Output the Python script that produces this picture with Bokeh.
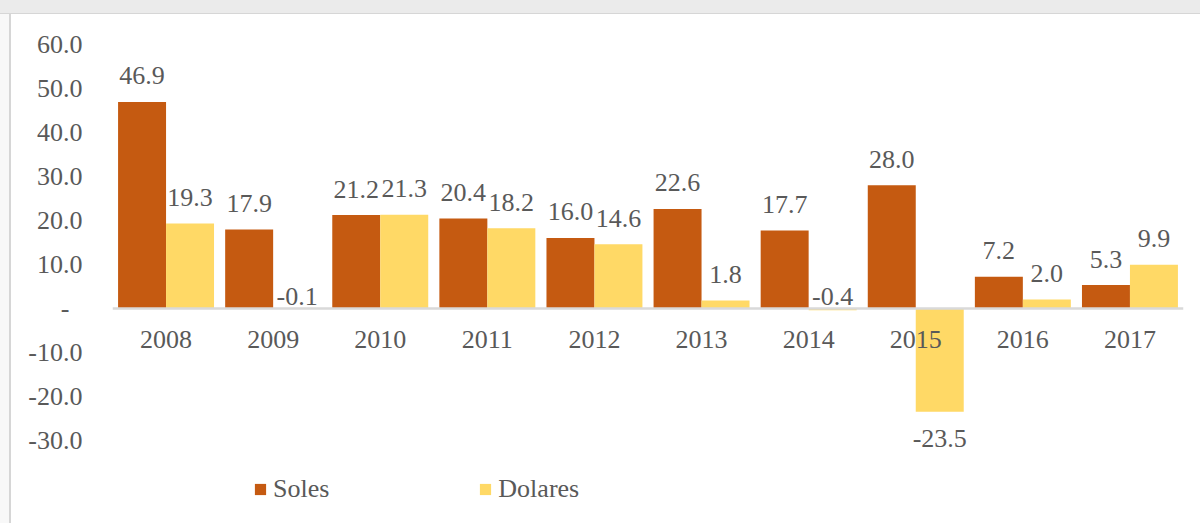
from bokeh.plotting import figure
from bokeh.models import (FactorRange, Range1d, FixedTicker, Legend,
                          LegendItem, ColumnDataSource, Div)
from bokeh.layouts import column, row
from bokeh.transform import dodge
from bokeh.core.properties import value
from bokeh.embed import file_html
from bokeh.resources import INLINE

years = ["2008", "2009", "2010", "2011", "2012", "2013", "2014", "2015", "2016", "2017"]
soles = [46.9, 17.9, 21.2, 20.4, 16.0, 22.6, 17.7, 28.0, 7.2, 5.3]
dolares = [19.3, -0.1, 21.3, 18.2, 14.6, 1.8, -0.4, -23.5, 2.0, 9.9]
y_ticks = [-30, -20, -10, 0, 10, 20, 30, 40, 50, 60]
y_tick_labels = ["-30.0", "-20.0", "-10.0", "-\u2007", "10.0", "20.0",
                 "30.0", "40.0", "50.0", "60.0"]

FONT = "Liberation Serif"
TXT = "#595959"
C_SOL = "#C55A11"
C_DOL = "#FFD966"

p = figure(x_range=FactorRange(*years, range_padding=0),
           y_range=Range1d(-47.5, 62),
           width=1189, height=509, output_backend="svg", toolbar_location=None,
           x_axis_location=None,
           min_border_left=101, min_border_right=17, min_border_top=21,
           min_border_bottom=6)
p.outline_line_color = None
p.xgrid.visible = False
p.ygrid.visible = False
p.background_fill_color = "white"
p.border_fill_color = "white"

yax = p.yaxis[0]
yax.ticker = FixedTicker(ticks=y_ticks)
yax.major_label_overrides = {t: l for t, l in zip(y_ticks, y_tick_labels)}
yax.axis_line_color = None
yax.major_tick_line_color = None
yax.minor_tick_line_color = None
yax.major_label_standoff = 24
yax.major_label_text_font = FONT
yax.major_label_text_font_size = "26px"
yax.major_label_text_color = TXT


def label_pos(vals):
    ys, offs = [], []
    for v in vals:
        if v >= 0:
            ys.append(v); offs.append(-26)
        elif v > -1:
            ys.append(0); offs.append(-12)
        else:
            ys.append(v); offs.append(27)
    return ys, offs


sy, so = label_pos(soles)
dy, do = label_pos(dolares)
src = ColumnDataSource(dict(
    year=years, soles=soles, dolares=dolares,
    sl=[f"{v:.1f}" for v in soles], dl=[f"{v:.1f}" for v in dolares],
    sy=sy, so=so, dy=dy, do=do,
))

bw = 0.448
r1 = p.vbar(x=dodge("year", -bw / 2, range=p.x_range), top="soles", bottom=0,
            width=bw, source=src, fill_color=C_SOL, line_color=None)
r2 = p.vbar(x=dodge("year", bw / 2, range=p.x_range), top="dolares", bottom=0,
            width=bw, source=src, fill_color=C_DOL, line_color=None)

# zero axis line, drawn over bars but under labels
p.hspan(y=[0], line_color="#d9d9d9", line_width=2.5)

p.text(x=dodge("year", -bw / 2, range=p.x_range), y="sy", text="sl",
       y_offset="so", source=src, text_align="center",
       text_baseline="alphabetic", text_font=value(FONT),
       text_font_size="26px", text_color=TXT)
p.text(x=dodge("year", bw / 2, range=p.x_range), y="dy", text="dl",
       y_offset="do", source=src, text_align="center",
       text_baseline="alphabetic", text_font=value(FONT),
       text_font_size="26px", text_color=TXT)

# category labels (drawn over the bars, as in the reference)
p.text(x="year", y=0, text="year", y_offset=31, source=src,
       text_align="center", text_baseline="alphabetic",
       text_font=value(FONT), text_font_size="26px", text_color=TXT)

legend = Legend(items=[LegendItem(label="Soles", renderers=[r1]),
                       LegendItem(label="Dolares", renderers=[r2])],
                orientation="horizontal", location=(141, 13),
                spacing=149, padding=0, margin=0, label_standoff=6,
                glyph_width=14, glyph_height=14,
                border_line_color=None, background_fill_alpha=0,
                label_text_font="'Liberation Serif', serif",
                label_text_font_size="26px",
                label_text_color=TXT)
p.add_layout(legend)

top_strip = Div(text="", width=1200, height=14, margin=0,
                styles={"background": "linear-gradient(to bottom, #ebebeb 13px, #d6d6d6 13px)"})
left_strip = Div(text="", width=11, height=509, margin=0,
                 styles={"background": "linear-gradient(to right, #f8f8f8 9px, #d6d6d6 9px)"})
layout = column(top_strip, row(left_strip, p, spacing=0), spacing=0)

open("out.html", "w").write(file_html(layout, INLINE))
